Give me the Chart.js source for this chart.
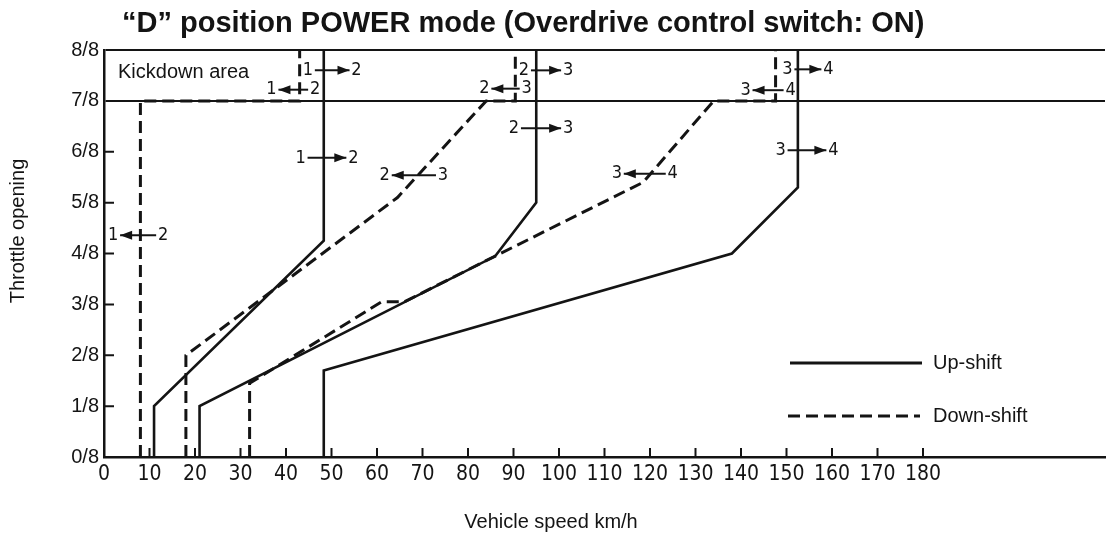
<!DOCTYPE html>
<html>
<head>
<meta charset="utf-8">
<title>Shift schedule</title>
<script src="https://cdn.jsdelivr.net/npm/chart.js@4.4.1/dist/chart.umd.min.js"></script>
<style>
  html, body { margin: 0; padding: 0; background: #fff; }
  #wrap { width: 1110px; height: 536px; }
</style>
</head>
<body>
<div id="wrap"><canvas id="shiftChart" width="1110" height="536"></canvas></div>
<script>
// corners of each shift line: vehicle speed (km/h) / throttle opening (eighths)
const up12Speed = [11, 11, 48.3, 48.3];
const up12Throttle = [0, 1, 4.25, 8];
const up23Speed = [21, 21, 86, 95, 95];
const up23Throttle = [0, 1, 3.95, 5, 8];
const up34Speed = [48.3, 48.3, 138, 152.5, 152.5];
const up34Throttle = [0, 1.7, 4, 5.3, 8];

const down21Speed = [8, 8, 43, 43];
const down21Throttle = [0, 7, 7, 8];
const down32Speed = [18, 18, 64.5, 84, 90.4, 90.4];
const down32Throttle = [0, 2, 5.1, 7, 7, 8];
const down43Speed = [32, 32, 61, 66, 86, 118.5, 134, 147.6, 147.6];
const down43Throttle = [0, 1.45, 3.05, 3.05, 3.95, 5.4, 7, 7, 8];

const speedTicks = [0, 10, 20, 30, 40, 50, 60, 70, 80, 90, 100, 110, 120, 130, 140, 150, 160, 170, 180];
const throttleTicks = ['0/8', '1/8', '2/8', '3/8', '4/8', '5/8', '6/8', '7/8', '8/8'];

// gear change tags: low gear on the left, high gear on the right
const shiftTags = [
  { lo: '1', hi: '2', up: true,  xl: 44.8,  xr: 55.5,  y: 7.6 },
  { lo: '1', hi: '2', up: false, xl: 36.8,  xr: 46.4,  y: 7.22 },
  { lo: '2', hi: '3', up: true,  xl: 92.3,  xr: 102,   y: 7.6 },
  { lo: '2', hi: '3', up: false, xl: 83.6,  xr: 92.9,  y: 7.24 },
  { lo: '3', hi: '4', up: true,  xl: 150.2, xr: 159.2, y: 7.62 },
  { lo: '3', hi: '4', up: false, xl: 141,   xr: 150.9, y: 7.21 },
  { lo: '1', hi: '2', up: true,  xl: 43.2,  xr: 54.8,  y: 5.88 },
  { lo: '1', hi: '2', up: false, xl: 2.0,   xr: 13.0,  y: 4.36 },
  { lo: '2', hi: '3', up: true,  xl: 90.1,  xr: 102,   y: 6.46 },
  { lo: '2', hi: '3', up: false, xl: 61.7,  xr: 74.5,  y: 5.54 },
  { lo: '3', hi: '4', up: false, xl: 112.7, xr: 125,   y: 5.57 },
  { lo: '3', hi: '4', up: true,  xl: 148.7, xr: 160.3, y: 6.03 }
];

const INK = '#141414';
const SANS = '"Liberation Sans", Arial, Helvetica, sans-serif';
const NARROW = '"Liberation Sans Narrow", "DejaVu Sans Condensed", "Liberation Sans", sans-serif';

function points(xs, ys) {
  return xs.map((x, i) => ({ x: x, y: ys[i] }));
}

function shiftLine(label, xs, ys, dashed) {
  return {
    label: label,
    data: points(xs, ys),
    showLine: true,
    borderColor: INK,
    borderWidth: dashed ? 3 : 2.6,
    borderDash: dashed ? [12, 6] : [],
    borderCapStyle: 'butt',
    borderJoinStyle: 'miter',
    pointRadius: 0,
    fill: false,
    tension: 0,
    clip: false
  };
}

// short tick marks pointing into the plot
const innerTicks = {
  id: 'innerTicks',
  afterDraw(chart) {
    const { ctx, chartArea, scales: { x, y } } = chart;
    ctx.save();
    ctx.strokeStyle = INK;
    ctx.lineWidth = 2;
    ctx.beginPath();
    x.ticks.forEach(t => {
      if (t.value > 0 && t.value <= 180) {
        const px = x.getPixelForValue(t.value);
        ctx.moveTo(px, chartArea.bottom);
        ctx.lineTo(px, chartArea.bottom - 9);
      }
    });
    y.ticks.forEach(t => {
      if (t.value > 0 && t.value < 7) {
        const py = y.getPixelForValue(t.value);
        ctx.moveTo(chartArea.left, py);
        ctx.lineTo(chartArea.left + 10, py);
      }
    });
    ctx.stroke();
    ctx.restore();
  }
};

function drawTag(ctx, x, y, tag) {
  const xl = x.getPixelForValue(tag.xl);
  const xr = x.getPixelForValue(tag.xr);
  const py = y.getPixelForValue(tag.y);
  ctx.fillText(tag.lo, xl, py);
  ctx.fillText(tag.hi, xr, py);
  const a = xl + 7, b = xr - 7;
  ctx.beginPath();
  ctx.moveTo(a, py);
  ctx.lineTo(b, py);
  ctx.stroke();
  ctx.beginPath();
  if (tag.up) {
    ctx.moveTo(b, py);
    ctx.lineTo(b - 12, py - 4.5);
    ctx.lineTo(b - 12, py + 4.5);
  } else {
    ctx.moveTo(a, py);
    ctx.lineTo(a + 12, py - 4.5);
    ctx.lineTo(a + 12, py + 4.5);
  }
  ctx.closePath();
  ctx.fill();
}

// title, axis names, kickdown band, legend and gear tags
const textLayer = {
  id: 'textLayer',
  afterDraw(chart) {
    const { ctx, chartArea, scales: { x, y } } = chart;
    ctx.save();
    ctx.fillStyle = INK;
    ctx.strokeStyle = INK;

    ctx.font = 'bold 29px ' + SANS;
    ctx.textAlign = 'left';
    ctx.textBaseline = 'alphabetic';
    ctx.fillText('\u201cD\u201d position POWER mode (Overdrive control switch: ON)', 122, 32);

    ctx.font = '20px ' + SANS;
    ctx.textBaseline = 'middle';
    ctx.fillText('Kickdown area', chartArea.left + 14, y.getPixelForValue(7.55));

    ctx.textAlign = 'center';
    ctx.fillText('Vehicle speed km/h', 551, 522);

    ctx.save();
    ctx.translate(18, 231);
    ctx.rotate(-Math.PI / 2);
    ctx.fillText('Throttle opening', 0, 0);
    ctx.restore();

    // legend
    ctx.textAlign = 'left';
    ctx.fillText('Up-shift', 933, 363);
    ctx.fillText('Down-shift', 933, 416);
    ctx.lineWidth = 3;
    ctx.beginPath();
    ctx.moveTo(790, 363);
    ctx.lineTo(922, 363);
    ctx.stroke();
    ctx.setLineDash([12, 6]);
    ctx.beginPath();
    ctx.moveTo(788, 416);
    ctx.lineTo(920, 416);
    ctx.stroke();
    ctx.setLineDash([]);

    ctx.font = '18px ' + NARROW;
    ctx.textAlign = 'center';
    ctx.lineWidth = 2;
    shiftTags.forEach(tag => drawTag(ctx, x, y, tag));
    ctx.restore();
  }
};

const ctx = document.getElementById('shiftChart').getContext('2d');
const shiftChart = new Chart(ctx, {
  type: 'scatter',
  data: {
    datasets: [
      shiftLine('1-2 up', up12Speed, up12Throttle, false),
      shiftLine('2-3 up', up23Speed, up23Throttle, false),
      shiftLine('3-4 up', up34Speed, up34Throttle, false),
      shiftLine('2-1 down', down21Speed, down21Throttle, true),
      shiftLine('3-2 down', down32Speed, down32Throttle, true),
      shiftLine('4-3 down', down43Speed, down43Throttle, true)
    ]
  },
  options: {
    responsive: false,
    animation: false,
    devicePixelRatio: 1,
    layout: { padding: { top: 50, left: 0, right: 0, bottom: 0 } },
    plugins: {
      legend: { display: false },
      title: { display: false },
      tooltip: { enabled: false }
    },
    scales: {
      x: {
        type: 'linear',
        min: 0,
        max: 220,
        afterFit: s => { s.height = 79; },
        ticks: {
          stepSize: 10,
          autoSkip: false,
          maxRotation: 0,
          padding: 5,
          color: INK,
          font: { family: NARROW, size: 21 },
          callback: v => (speedTicks.includes(v) ? String(v) : '')
        },
        grid: { drawOnChartArea: false, drawTicks: false },
        border: { display: true, color: INK, width: 2.5 }
      },
      y: {
        type: 'linear',
        min: 0,
        max: 8,
        afterFit: s => { s.width = 104; },
        ticks: {
          stepSize: 1,
          padding: 5,
          color: INK,
          font: { family: SANS, size: 20 },
          callback: v => throttleTicks[v]
        },
        grid: {
          drawTicks: false,
          lineWidth: 2,
          color: c => (c.tick && c.tick.value >= 7 ? INK : 'rgba(0,0,0,0)')
        },
        border: { display: true, color: INK, width: 2.5 }
      }
    }
  },
  plugins: [innerTicks, textLayer]
});
</script>
</body>
</html>
